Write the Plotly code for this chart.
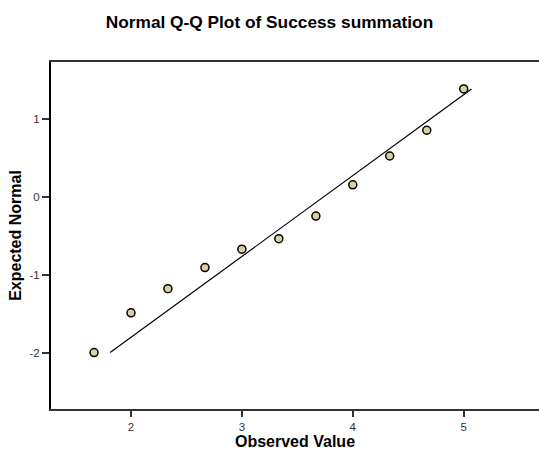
import plotly.graph_objects as go

# Observed values of the Success summation score and their expected normal quantiles
observed = [1.667, 2.0, 2.333, 2.667, 3.0, 3.333, 3.667, 4.0, 4.333, 4.667, 5.0]
expected_normal = [-2.0, -1.49, -1.18, -0.91, -0.675, -0.54, -0.25, 0.15, 0.52, 0.85, 1.38]

# Reference normal line parameters (mean and standard deviation of the scores)
ref_mean = 3.74
ref_sd = 0.964

x_ticks = [2, 3, 4, 5]
y_ticks = [-2, -1, 0, 1]

# Reference line spans the range of expected normal values
y_line = [min(expected_normal), max(expected_normal)]
x_line = [ref_mean + ref_sd * v for v in y_line]

fig = go.Figure()
fig.add_trace(go.Scatter(
    x=x_line, y=y_line, mode="lines",
    line=dict(color="black", width=1.2),
    hoverinfo="skip", showlegend=False,
))
fig.add_trace(go.Scatter(
    x=observed, y=expected_normal, mode="markers",
    marker=dict(size=8, color="#D9D0A0", line=dict(color="black", width=1.5)),
    showlegend=False,
))

font_family = "Arial, Liberation Sans, sans-serif"
fig.update_layout(
    width=539, height=450,
    margin=dict(l=51, r=0, t=62, b=41),
    paper_bgcolor="white", plot_bgcolor="white",
    font=dict(family=font_family, color="#222222"),
    title=dict(
        text="<b>Normal Q-Q Plot of Success summation</b>",
        x=0.5, xref="container", xanchor="center",
        y=1 - 22 / 450, yref="container", yanchor="middle",
        font=dict(size=17.3, color="black", family=font_family),
    ),
    xaxis=dict(
        range=[1.2787, 5.679],
        tickvals=x_ticks, ticktext=[str(v) for v in x_ticks],
        ticks="outside", ticklen=6, tickwidth=1.5, tickcolor="#333333",
        tickfont=dict(size=11.5, color="#333333"),
        showline=True, linecolor="#333333", linewidth=1.5, mirror=True,
        showgrid=False, zeroline=False,
        title=dict(text="<b>Observed Value</b>", standoff=2,
                   font=dict(size=16, color="black")),
    ),
    yaxis=dict(
        range=[-2.723, 1.725],
        tickvals=y_ticks, ticktext=[str(v) for v in y_ticks],
        ticks="outside", ticklen=7, tickwidth=1.5, tickcolor="#333333",
        tickfont=dict(size=11.5, color="#333333"),
        showline=True, linecolor="black", linewidth=2,
        showgrid=False, zeroline=False,
        title=dict(text="<b>Expected Normal</b>", standoff=4,
                   font=dict(size=16, color="black")),
    ),
)

fig.write_html("out.html")
